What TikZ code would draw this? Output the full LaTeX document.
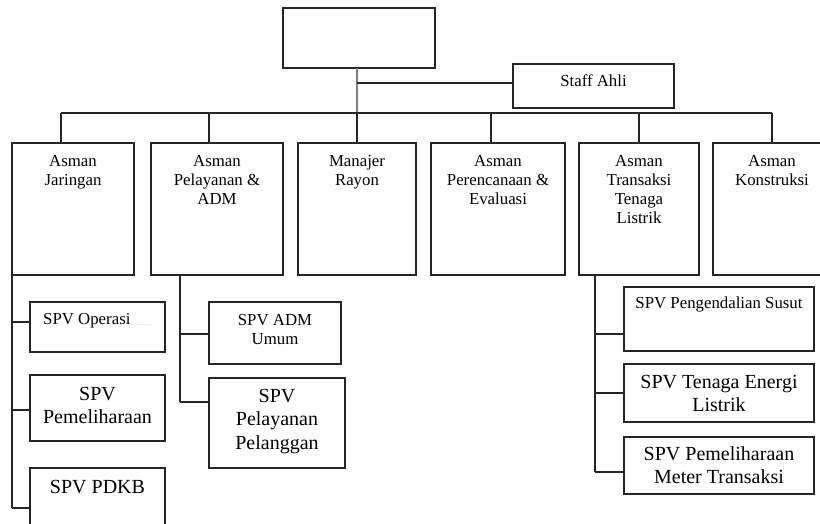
\documentclass[tikz,border=0pt]{standalone}
\usepackage{fontspec}
\setmainfont{Liberation Serif}
\begin{document}
\begin{tikzpicture}[x=1pt,y=-1pt,
  ln/.style={draw=black!85, line width=1.1pt},
  grayln/.style={draw=black!50, line width=2pt},
  box/.style={ln, rectangle, inner sep=0pt, outer sep=0pt, anchor=north west},
  lbl/.style={anchor=north, inner sep=0pt, align=center, font=\fontsize{16.8}{19.2}\selectfont},
  lblbig/.style={anchor=north, inner sep=0pt, align=center, font=\fontsize{20}{23.4}\selectfont},
]
\useasboundingbox (0,0) rectangle (820,524);
\clip (0,0) rectangle (820,524);

% top level
\node[box, minimum width=152pt, minimum height=60pt] (top) at (283,8) {};
\node[box, minimum width=161pt, minimum height=44pt] (staff) at (513,64) {};
\node[lbl, yshift=-8.56pt] (tstaff) at (staff.north) {\strut Staff Ahli};

% level 1 boxes
\node[box, minimum width=122pt, minimum height=132pt] (b1) at (12,143) {};
\node[box, minimum width=132pt, minimum height=132pt] (b2) at (151,143) {};
\node[box, minimum width=118pt, minimum height=132pt] (b3) at (298,143) {};
\node[box, minimum width=134pt, minimum height=132pt] (b4) at (431,143) {};
\node[box, minimum width=120pt, minimum height=132pt] (b5) at (579,143) {};
\node[box, minimum width=118pt, minimum height=132pt] (b6) at (713,143) {};

\node[lbl, yshift=-9.56pt] (t1) at (b1.north) {\strut Asman\\Jaringan};
\node[lbl, yshift=-9.56pt] (t2) at (b2.north) {\strut Asman\\Pelayanan \&\\ADM};
\node[lbl, yshift=-9.56pt] (t3) at (b3.north) {\strut Manajer\\Rayon};
\node[lbl, yshift=-9.56pt] (t4) at (b4.north) {\strut Asman\\Perencanaan \&\\Evaluasi};
\node[lbl, yshift=-9.56pt] (t5) at (b5.north) {\strut Asman\\Transaksi\\Tenaga\\Listrik};
\node[lbl, yshift=-9.56pt] (t6) at (b6.north) {\strut Asman\\Konstruksi};

% SPV boxes
\node[box, minimum width=135pt, minimum height=50pt] (op) at (30,302) {};
\node[box, minimum width=135pt, minimum height=66pt] (pem) at (30,375) {};
\node[box, minimum width=135pt, minimum height=72pt] (pdkb) at (30,468) {};
\node[box, minimum width=132pt, minimum height=62pt] (adm) at (209,302) {};
\node[box, minimum width=136pt, minimum height=90pt] (pel) at (209,378) {};
\node[box, minimum width=190pt, minimum height=64pt] (sus) at (624,287) {};
\node[box, minimum width=190pt, minimum height=58pt] (ten) at (624,364) {};
\node[box, minimum width=190pt, minimum height=57pt] (met) at (624,437) {};

\node[lbl, anchor=north west] (top-op) at (43,310.56) {\strut SPV Operasi};
\draw[black!8, line width=0.6pt] (top-op.base east) -- ++(20,0);
\node[lblbig, yshift=-8.62pt] (tpem) at (pem.north) {\strut SPV\\Pemeliharaan};
\node[lblbig, yshift=-8.62pt] (tpdkb) at (pdkb.north) {\strut SPV PDKB};
\node[lbl, yshift=-9.56pt] (tadm) at (adm.north) {\strut SPV ADM\\Umum};
\node[lblbig, yshift=-7.62pt] (tpel) at (pel.north) {\strut SPV\\Pelayanan\\Pelanggan};
\node[lbl, yshift=-7.56pt] (tsus) at (sus.north) {\strut SPV Pengendalian Susut};
\node[lblbig, yshift=-7.62pt] (tten) at (ten.north) {\strut SPV Tenaga Energi\\Listrik};
\node[lblbig, yshift=-6.62pt] (tmet) at (met.north) {\strut SPV Pemeliharaan\\Meter Transaksi};

% connectors: top
\coordinate (tv) at (357,113);
\coordinate (sj) at (357,83);
\draw[grayln] (tv |- top.south) -- (tv);
\draw[ln] (sj) -- (sj -| staff.west);

% bus
\coordinate (busL) at (61,113);
\coordinate (busR) at (772,113);
\draw[ln] (busL) -- (busR);
\coordinate (d1) at (61,113);
\coordinate (d2) at (209,113);
\coordinate (d3) at (357,113);
\coordinate (d4) at (491,113);
\coordinate (d5) at (639,113);
\coordinate (d6) at (772,113);
\draw[ln] (d1) -- (d1 |- b1.north);
\draw[ln] (d2) -- (d2 |- b2.north);
\draw[ln] (d3) -- (d3 |- b3.north);
\draw[ln] (d4) -- (d4 |- b4.north);
\draw[ln] (d5) -- (d5 |- b5.north);
\draw[ln] (d6) -- (d6 |- b6.north);

% left column
\coordinate (l1) at (12,322);
\coordinate (l2) at (12,410);
\coordinate (l3) at (12,508);
\draw[ln] (b1.south west) -- (l3);
\draw[ln] (l1) -- (l1 -| op.west);
\draw[ln] (l2) -- (l2 -| pem.west);
\draw[ln] (l3) -- (l3 -| pdkb.west);

% middle column
\coordinate (m0) at (180,275);
\coordinate (m1) at (180,334);
\coordinate (m2) at (180,402);
\draw[ln] (m0) -- (m2);
\draw[ln] (m1) -- (m1 -| adm.west);
\draw[ln] (m2) -- (m2 -| pel.west);

% right column
\coordinate (r0) at (595,275);
\coordinate (r1) at (595,334);
\coordinate (r2) at (595,393);
\coordinate (r3) at (595,472);
\draw[ln] (r0) -- (r3);
\draw[ln] (r1) -- (r1 -| sus.west);
\draw[ln] (r2) -- (r2 -| ten.west);
\draw[ln] (r3) -- (r3 -| met.west);
\end{tikzpicture}
\end{document}
